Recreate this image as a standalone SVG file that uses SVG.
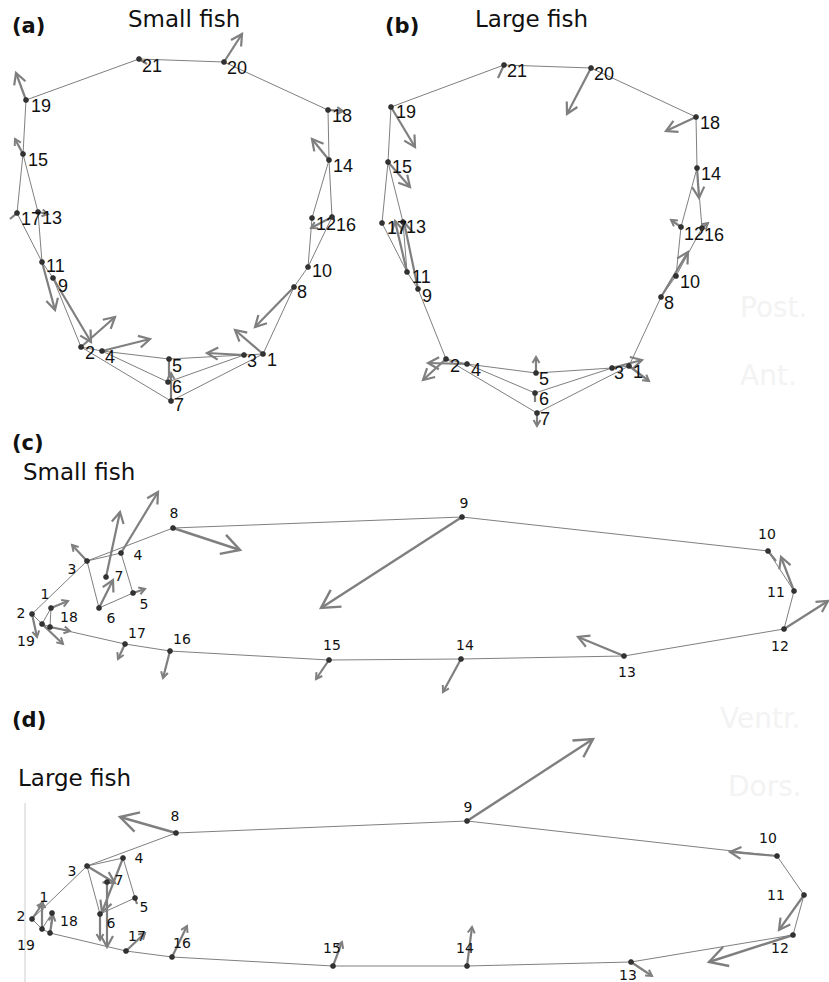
<svg xmlns="http://www.w3.org/2000/svg" width="829" height="982" viewBox="0 0 829 982">
<style>
.e{stroke:#707070;stroke-width:0.9;fill:none}
.v{stroke:#7f7f7f;stroke-width:2.2;fill:none}
.vs{stroke:#7f7f7f;stroke-width:2.2;fill:none;marker-end:url(#hs)}
.vm{stroke:#7f7f7f;stroke-width:2.2;fill:none;marker-end:url(#hm)}
.vl{stroke:#7f7f7f;stroke-width:2.4;fill:none;marker-end:url(#hl)}
.n{fill:#333;stroke:#222;stroke-width:0.6}
.la{font-family:"Liberation Sans",Arial,sans-serif;font-size:18px;fill:#111}
.lc{font-family:"DejaVu Sans",sans-serif;font-size:14px;fill:#111;text-anchor:middle}
.t{font-family:"DejaVu Sans",sans-serif;font-size:23px;fill:#111}
.p{font-family:"DejaVu Sans",sans-serif;font-size:21px;font-weight:bold;fill:#111}
.f{font-family:"DejaVu Sans",sans-serif;font-size:28px;fill:#f3f3f3}
</style>
<defs>
<marker id="hs" markerUnits="userSpaceOnUse" markerWidth="10" markerHeight="10" refX="7" refY="5" orient="auto" overflow="visible"><path d="M1,1.5 L7,5 L1,8.5" fill="none" stroke="#7f7f7f" stroke-width="2"/></marker>
<marker id="hm" markerUnits="userSpaceOnUse" markerWidth="14" markerHeight="14" refX="11" refY="7" orient="auto" overflow="visible"><path d="M0,1 L11,7 L0,13" fill="none" stroke="#7f7f7f" stroke-width="2.2"/></marker>
<marker id="hl" markerUnits="userSpaceOnUse" markerWidth="22" markerHeight="22" refX="18" refY="11" orient="auto" overflow="visible"><path d="M0,1 L18,11 L0,21" fill="none" stroke="#7f7f7f" stroke-width="2.4"/></marker>
</defs>
<rect width="829" height="982" fill="#fff"/>

<!-- titles -->
<text class="p" x="12" y="33">(a)</text>
<text class="t" x="128" y="27">Small fish</text>
<text class="p" x="385" y="33">(b)</text>
<text class="t" x="475" y="27">Large fish</text>
<text class="p" x="12" y="450">(c)</text>
<text class="t" x="23" y="480">Small fish</text>
<text class="p" x="12" y="727">(d)</text>
<text class="t" x="18" y="786">Large fish</text>
<text class="f" x="740" y="317">Post.</text>
<text class="f" x="740" y="385">Ant.</text>
<text class="f" x="720" y="728">Ventr.</text>
<text class="f" x="728" y="796">Dors.</text>
<line x1="25" y1="803" x2="25" y2="982" stroke="#cfcfcf" stroke-width="1"/>

<g id="connectors">
<!-- panel a -->
<line class="e" x1="139" y1="59" x2="224" y2="62"/>
<line class="e" x1="139" y1="59" x2="26" y2="100"/>
<line class="e" x1="224" y1="62" x2="328" y2="110"/>
<line class="e" x1="328" y1="110" x2="329" y2="160"/>
<line class="e" x1="329" y1="160" x2="312" y2="218"/>
<line class="e" x1="329" y1="160" x2="332" y2="217"/>
<line class="e" x1="312" y1="218" x2="308" y2="267"/>
<line class="e" x1="332" y1="217" x2="308" y2="267"/>
<line class="e" x1="308" y1="267" x2="294" y2="287"/>
<line class="e" x1="294" y1="287" x2="263" y2="354"/>
<line class="e" x1="26" y1="100" x2="23" y2="154"/>
<line class="e" x1="23" y1="154" x2="17" y2="213"/>
<line class="e" x1="23" y1="154" x2="38" y2="212"/>
<line class="e" x1="17" y1="213" x2="42" y2="262"/>
<line class="e" x1="38" y1="212" x2="42" y2="262"/>
<line class="e" x1="42" y1="262" x2="53" y2="278"/>
<line class="e" x1="53" y1="278" x2="81" y2="347"/>
<line class="e" x1="81" y1="347" x2="102" y2="351"/>
<line class="e" x1="81" y1="347" x2="171" y2="401"/>
<line class="e" x1="102" y1="351" x2="169" y2="359"/>
<line class="e" x1="102" y1="351" x2="168" y2="382"/>
<line class="e" x1="169" y1="359" x2="244" y2="355"/>
<line class="e" x1="168" y1="382" x2="244" y2="355"/>
<line class="e" x1="171" y1="401" x2="263" y2="354"/>
<line class="e" x1="244" y1="355" x2="263" y2="354"/>
<!-- panel b -->
<line class="e" x1="504" y1="65" x2="591" y2="68"/>
<line class="e" x1="504" y1="65" x2="391" y2="107"/>
<line class="e" x1="591" y1="68" x2="696" y2="117"/>
<line class="e" x1="696" y1="117" x2="697" y2="168"/>
<line class="e" x1="697" y1="168" x2="681" y2="227"/>
<line class="e" x1="697" y1="168" x2="702" y2="228"/>
<line class="e" x1="681" y1="227" x2="676" y2="276"/>
<line class="e" x1="702" y1="228" x2="676" y2="276"/>
<line class="e" x1="676" y1="276" x2="661" y2="297"/>
<line class="e" x1="661" y1="297" x2="629" y2="366"/>
<line class="e" x1="391" y1="107" x2="388" y2="162"/>
<line class="e" x1="388" y1="162" x2="382" y2="223"/>
<line class="e" x1="388" y1="162" x2="403" y2="222"/>
<line class="e" x1="382" y1="223" x2="407" y2="272"/>
<line class="e" x1="403" y1="222" x2="407" y2="272"/>
<line class="e" x1="407" y1="272" x2="418" y2="289"/>
<line class="e" x1="418" y1="289" x2="446" y2="359"/>
<line class="e" x1="446" y1="359" x2="467" y2="364"/>
<line class="e" x1="446" y1="359" x2="537" y2="413"/>
<line class="e" x1="467" y1="364" x2="536" y2="373"/>
<line class="e" x1="467" y1="364" x2="535" y2="393"/>
<line class="e" x1="536" y1="373" x2="612" y2="368"/>
<line class="e" x1="535" y1="393" x2="612" y2="368"/>
<line class="e" x1="537" y1="413" x2="629" y2="366"/>
<line class="e" x1="612" y1="368" x2="629" y2="366"/>
<!-- panel c -->
<line class="e" x1="32" y1="614" x2="87" y2="561"/>
<line class="e" x1="87" y1="561" x2="121" y2="553"/>
<line class="e" x1="87" y1="561" x2="173" y2="528"/>
<line class="e" x1="121" y1="553" x2="133" y2="593"/>
<line class="e" x1="133" y1="593" x2="99" y2="608"/>
<line class="e" x1="99" y1="608" x2="87" y2="561"/>
<line class="e" x1="173" y1="528" x2="462" y2="517"/>
<line class="e" x1="462" y1="517" x2="768" y2="551"/>
<line class="e" x1="768" y1="551" x2="794" y2="591"/>
<line class="e" x1="794" y1="591" x2="784" y2="629"/>
<line class="e" x1="784" y1="629" x2="624" y2="656"/>
<line class="e" x1="624" y1="656" x2="461" y2="659"/>
<line class="e" x1="461" y1="659" x2="329" y2="660"/>
<line class="e" x1="329" y1="660" x2="170" y2="651"/>
<line class="e" x1="170" y1="651" x2="125" y2="644"/>
<line class="e" x1="125" y1="644" x2="50" y2="627"/>
<line class="e" x1="32" y1="614" x2="42" y2="624"/>
<line class="e" x1="42" y1="624" x2="51" y2="608"/>
<line class="e" x1="51" y1="608" x2="50" y2="627"/>
<line class="e" x1="42" y1="624" x2="50" y2="627"/>
<!-- panel d -->
<line class="e" x1="32" y1="919" x2="87" y2="866"/>
<line class="e" x1="87" y1="866" x2="123" y2="858"/>
<line class="e" x1="87" y1="866" x2="176" y2="833"/>
<line class="e" x1="123" y1="858" x2="135" y2="898"/>
<line class="e" x1="135" y1="898" x2="100" y2="914"/>
<line class="e" x1="100" y1="914" x2="87" y2="866"/>
<line class="e" x1="176" y1="833" x2="467" y2="821"/>
<line class="e" x1="467" y1="821" x2="777" y2="856"/>
<line class="e" x1="777" y1="856" x2="804" y2="895"/>
<line class="e" x1="804" y1="895" x2="793" y2="935"/>
<line class="e" x1="793" y1="935" x2="631" y2="962"/>
<line class="e" x1="631" y1="962" x2="467" y2="966"/>
<line class="e" x1="467" y1="966" x2="333" y2="966"/>
<line class="e" x1="333" y1="966" x2="172" y2="957"/>
<line class="e" x1="172" y1="957" x2="126" y2="951"/>
<line class="e" x1="126" y1="951" x2="50" y2="933"/>
<line class="e" x1="32" y1="919" x2="42" y2="929"/>
<line class="e" x1="42" y1="929" x2="52" y2="913"/>
<line class="e" x1="52" y1="913" x2="50" y2="933"/>
<line class="e" x1="42" y1="929" x2="50" y2="933"/>
</g>

<g id="vectors">
<!-- panel a -->
<line class="vm" x1="263" y1="354" x2="235" y2="330"/>
<line class="vm" x1="81" y1="347" x2="115" y2="317"/>
<line class="vm" x1="244" y1="355" x2="207" y2="353"/>
<line class="vm" x1="102" y1="351" x2="150" y2="339"/>
<line class="v" x1="169" y1="359" x2="169" y2="378"/>
<line class="vs" x1="171" y1="401" x2="171" y2="373"/>
<line class="vm" x1="294" y1="287" x2="255" y2="327"/>
<line class="vm" x1="53" y1="278" x2="91" y2="342"/>
<line class="vm" x1="42" y1="262" x2="55" y2="310"/>
<line class="vm" x1="329" y1="160" x2="312" y2="139"/>
<line class="vs" x1="23" y1="154" x2="15" y2="139"/>
<line class="vs" x1="332" y1="217" x2="311" y2="228"/>
<line class="v" x1="17" y1="213" x2="10" y2="219"/>
<line class="vs" x1="38" y1="212" x2="48" y2="214"/>
<line class="vs" x1="328" y1="110" x2="343" y2="111"/>
<line class="vm" x1="26" y1="100" x2="16" y2="73"/>
<line class="vm" x1="224" y1="62" x2="242" y2="34"/>
<line class="v" x1="139" y1="59" x2="147" y2="64"/>
<!-- panel b -->
<line class="vs" x1="629" y1="366" x2="649" y2="381"/>
<line class="vm" x1="446" y1="359" x2="423" y2="380"/>
<line class="vm" x1="467" y1="364" x2="428" y2="363"/>
<line class="vm" x1="612" y1="368" x2="642" y2="360"/>
<line class="vs" x1="536" y1="373" x2="536" y2="357"/>
<line class="v" x1="535" y1="393" x2="535" y2="402"/>
<line class="vs" x1="537" y1="413" x2="537" y2="426"/>
<line class="vm" x1="661" y1="297" x2="688" y2="252"/>
<line class="vm" x1="418" y1="289" x2="404" y2="222"/>
<line class="vm" x1="407" y1="272" x2="395" y2="221"/>
<line class="vs" x1="681" y1="227" x2="671" y2="220"/>
<line class="vm" x1="697" y1="168" x2="699" y2="198"/>
<line class="vm" x1="388" y1="162" x2="410" y2="187"/>
<line class="vs" x1="702" y1="228" x2="708" y2="223"/>
<line class="vm" x1="696" y1="117" x2="666" y2="131"/>
<line class="vm" x1="391" y1="107" x2="415" y2="147"/>
<line class="vm" x1="591" y1="68" x2="567" y2="114"/>
<line class="v" x1="504" y1="65" x2="498" y2="78"/>
<!-- panel c -->
<line class="vs" x1="51" y1="608" x2="68" y2="601"/>
<line class="vs" x1="32" y1="614" x2="37" y2="637"/>
<line class="vs" x1="87" y1="561" x2="72" y2="545"/>
<line class="vm" x1="121" y1="553" x2="158" y2="492"/>
<line class="vs" x1="133" y1="593" x2="145" y2="589"/>
<line class="vm" x1="99" y1="608" x2="113" y2="580"/>
<line class="vm" x1="106" y1="577" x2="120" y2="512"/>
<line class="vl" x1="173" y1="528" x2="240" y2="550"/>
<line class="vl" x1="462" y1="517" x2="321" y2="608"/>
<line class="v" x1="768" y1="551" x2="776" y2="561"/>
<line class="vm" x1="794" y1="591" x2="781" y2="557"/>
<line class="vm" x1="784" y1="629" x2="828" y2="601"/>
<line class="vm" x1="624" y1="656" x2="578" y2="637"/>
<line class="vs" x1="461" y1="659" x2="443" y2="692"/>
<line class="vs" x1="329" y1="660" x2="316" y2="679"/>
<line class="vs" x1="170" y1="651" x2="163" y2="678"/>
<line class="vs" x1="125" y1="644" x2="118" y2="659"/>
<line class="vs" x1="50" y1="627" x2="70" y2="631"/>
<line class="vs" x1="42" y1="624" x2="63" y2="644"/>
<!-- panel d -->
<line class="vl" x1="176" y1="833" x2="120" y2="817"/>
<line class="vl" x1="467" y1="821" x2="593" y2="739"/>
<line class="vm" x1="777" y1="856" x2="730" y2="852"/>
<line class="vm" x1="804" y1="895" x2="779" y2="930"/>
<line class="vl" x1="793" y1="935" x2="709" y2="962"/>
<line class="vs" x1="631" y1="962" x2="652" y2="976"/>
<line class="vs" x1="467" y1="966" x2="472" y2="927"/>
<line class="vs" x1="333" y1="966" x2="342" y2="942"/>
<line class="vs" x1="172" y1="957" x2="187" y2="926"/>
<line class="vs" x1="126" y1="951" x2="145" y2="933"/>
<line class="vm" x1="87" y1="866" x2="115" y2="883"/>
<line class="vm" x1="123" y1="858" x2="102" y2="912"/>
<line class="vm" x1="107" y1="882" x2="107" y2="947"/>
<line class="vs" x1="100" y1="914" x2="100" y2="940"/>
<line class="vs" x1="42" y1="929" x2="42" y2="902"/>
<line class="vs" x1="32" y1="919" x2="43" y2="903"/>
<line class="vs" x1="50" y1="933" x2="53" y2="915"/>
<line class="v" x1="135" y1="898" x2="137" y2="904"/>
</g>

<!-- panel a nodes -->
<g id="a1"><circle class="n" cx="263" cy="354" r="2.5"/><text class="la" x="267" y="366">1</text></g>
<g id="a2"><circle class="n" cx="81" cy="347" r="2.5"/><text class="la" x="85" y="359">2</text></g>
<g id="a3"><circle class="n" cx="244" cy="355" r="2.5"/><text class="la" x="247" y="367">3</text></g>
<g id="a4"><circle class="n" cx="102" cy="351" r="2.5"/><text class="la" x="105" y="363">4</text></g>
<g id="a5"><circle class="n" cx="169" cy="359" r="2.5"/><text class="la" x="172" y="372">5</text></g>
<g id="a6"><circle class="n" cx="168" cy="382" r="2.5"/><text class="la" x="172" y="393">6</text></g>
<g id="a7"><circle class="n" cx="171" cy="401" r="2.5"/><text class="la" x="174" y="411">7</text></g>
<g id="a8"><circle class="n" cx="294" cy="287" r="2.5"/><text class="la" x="297" y="298">8</text></g>
<g id="a9"><circle class="n" cx="53" cy="278" r="2.5"/><text class="la" x="58" y="292">9</text></g>
<g id="a10"><circle class="n" cx="308" cy="267" r="2.5"/><text class="la" x="312" y="277">10</text></g>
<g id="a11"><circle class="n" cx="42" cy="262" r="2.5"/><text class="la" x="46" y="272">11</text></g>
<g id="a12"><circle class="n" cx="312" cy="218" r="2.5"/><text class="la" x="316" y="230">12</text></g>
<g id="a13"><circle class="n" cx="38" cy="212" r="2.5"/><text class="la" x="42" y="224">13</text></g>
<g id="a14"><circle class="n" cx="329" cy="160" r="2.5"/><text class="la" x="333" y="172">14</text></g>
<g id="a15"><circle class="n" cx="23" cy="154" r="2.5"/><text class="la" x="28" y="166">15</text></g>
<g id="a16"><circle class="n" cx="332" cy="217" r="2.5"/><text class="la" x="336" y="231">16</text></g>
<g id="a17"><circle class="n" cx="17" cy="213" r="2.5"/><text class="la" x="21" y="225">17</text></g>
<g id="a18"><circle class="n" cx="328" cy="110" r="2.5"/><text class="la" x="332" y="122">18</text></g>
<g id="a19"><circle class="n" cx="26" cy="100" r="2.5"/><text class="la" x="31" y="112">19</text></g>
<g id="a20"><circle class="n" cx="224" cy="62" r="2.5"/><text class="la" x="227" y="74">20</text></g>
<g id="a21"><circle class="n" cx="139" cy="59" r="2.5"/><text class="la" x="142" y="72">21</text></g>

<!-- panel b nodes -->
<g id="b1"><circle class="n" cx="629" cy="366" r="2.5"/><text class="la" x="633" y="378">1</text></g>
<g id="b2"><circle class="n" cx="446" cy="359" r="2.5"/><text class="la" x="450" y="372">2</text></g>
<g id="b3"><circle class="n" cx="612" cy="368" r="2.5"/><text class="la" x="614" y="379">3</text></g>
<g id="b4"><circle class="n" cx="467" cy="364" r="2.5"/><text class="la" x="471" y="376">4</text></g>
<g id="b5"><circle class="n" cx="536" cy="373" r="2.5"/><text class="la" x="539" y="385">5</text></g>
<g id="b6"><circle class="n" cx="535" cy="393" r="2.5"/><text class="la" x="539" y="405">6</text></g>
<g id="b7"><circle class="n" cx="537" cy="413" r="2.5"/><text class="la" x="540" y="425">7</text></g>
<g id="b8"><circle class="n" cx="661" cy="297" r="2.5"/><text class="la" x="664" y="309">8</text></g>
<g id="b9"><circle class="n" cx="418" cy="289" r="2.5"/><text class="la" x="422" y="302">9</text></g>
<g id="b10"><circle class="n" cx="676" cy="276" r="2.5"/><text class="la" x="680" y="288">10</text></g>
<g id="b11"><circle class="n" cx="407" cy="272" r="2.5"/><text class="la" x="412" y="283">11</text></g>
<g id="b12"><circle class="n" cx="681" cy="227" r="2.5"/><text class="la" x="684" y="240">12</text></g>
<g id="b13"><circle class="n" cx="403" cy="222" r="2.5"/><text class="la" x="406" y="233">13</text></g>
<g id="b14"><circle class="n" cx="697" cy="168" r="2.5"/><text class="la" x="701" y="180">14</text></g>
<g id="b15"><circle class="n" cx="388" cy="162" r="2.5"/><text class="la" x="392" y="173">15</text></g>
<g id="b16"><circle class="n" cx="702" cy="228" r="2.5"/><text class="la" x="704" y="241">16</text></g>
<g id="b17"><circle class="n" cx="382" cy="223" r="2.5"/><text class="la" x="387" y="234">17</text></g>
<g id="b18"><circle class="n" cx="696" cy="117" r="2.5"/><text class="la" x="700" y="129">18</text></g>
<g id="b19"><circle class="n" cx="391" cy="107" r="2.5"/><text class="la" x="396" y="118">19</text></g>
<g id="b20"><circle class="n" cx="591" cy="68" r="2.5"/><text class="la" x="594" y="80">20</text></g>
<g id="b21"><circle class="n" cx="504" cy="65" r="2.5"/><text class="la" x="507" y="77">21</text></g>

<!-- panel c nodes -->
<g id="c1"><circle class="n" cx="51" cy="608" r="2.5"/><text class="lc" x="45" y="599">1</text></g>
<g id="c2"><circle class="n" cx="32" cy="614" r="2.5"/><text class="lc" x="21" y="618">2</text></g>
<g id="c3"><circle class="n" cx="87" cy="561" r="2.5"/><text class="lc" x="72" y="574">3</text></g>
<g id="c4"><circle class="n" cx="121" cy="553" r="2.5"/><text class="lc" x="138" y="560">4</text></g>
<g id="c5"><circle class="n" cx="133" cy="593" r="2.5"/><text class="lc" x="144" y="609">5</text></g>
<g id="c6"><circle class="n" cx="99" cy="608" r="2.5"/><text class="lc" x="111" y="623">6</text></g>
<g id="c7"><circle class="n" cx="106" cy="577" r="2.5"/><text class="lc" x="119" y="581">7</text></g>
<g id="c8"><circle class="n" cx="173" cy="528" r="2.5"/><text class="lc" x="174" y="518">8</text></g>
<g id="c9"><circle class="n" cx="462" cy="517" r="2.5"/><text class="lc" x="464" y="508">9</text></g>
<g id="c10"><circle class="n" cx="768" cy="551" r="2.5"/><text class="lc" x="767" y="539">10</text></g>
<g id="c11"><circle class="n" cx="794" cy="591" r="2.5"/><text class="lc" x="776" y="597">11</text></g>
<g id="c12"><circle class="n" cx="784" cy="629" r="2.5"/><text class="lc" x="780" y="651">12</text></g>
<g id="c13"><circle class="n" cx="624" cy="656" r="2.5"/><text class="lc" x="627" y="677">13</text></g>
<g id="c14"><circle class="n" cx="461" cy="659" r="2.5"/><text class="lc" x="465" y="650">14</text></g>
<g id="c15"><circle class="n" cx="329" cy="660" r="2.5"/><text class="lc" x="332" y="650">15</text></g>
<g id="c16"><circle class="n" cx="170" cy="651" r="2.5"/><text class="lc" x="182" y="644">16</text></g>
<g id="c17"><circle class="n" cx="125" cy="644" r="2.5"/><text class="lc" x="137" y="638">17</text></g>
<g id="c18"><circle class="n" cx="50" cy="627" r="2.5"/><text class="lc" x="69" y="622">18</text></g>
<g id="c19"><circle class="n" cx="42" cy="624" r="2.5"/><text class="lc" x="26" y="646">19</text></g>

<!-- panel d nodes -->
<g id="d1"><circle class="n" cx="52" cy="913" r="2.5"/><text class="lc" x="44" y="902">1</text></g>
<g id="d2"><circle class="n" cx="32" cy="919" r="2.5"/><text class="lc" x="21" y="921">2</text></g>
<g id="d3"><circle class="n" cx="87" cy="866" r="2.5"/><text class="lc" x="72" y="876">3</text></g>
<g id="d4"><circle class="n" cx="123" cy="858" r="2.5"/><text class="lc" x="139" y="863">4</text></g>
<g id="d5"><circle class="n" cx="135" cy="898" r="2.5"/><text class="lc" x="144" y="912">5</text></g>
<g id="d6"><circle class="n" cx="100" cy="914" r="2.5"/><text class="lc" x="111" y="928">6</text></g>
<g id="d7"><circle class="n" cx="107" cy="882" r="2.5"/><text class="lc" x="119" y="885">7</text></g>
<g id="d8"><circle class="n" cx="176" cy="833" r="2.5"/><text class="lc" x="175" y="821">8</text></g>
<g id="d9"><circle class="n" cx="467" cy="821" r="2.5"/><text class="lc" x="468" y="812">9</text></g>
<g id="d10"><circle class="n" cx="777" cy="856" r="2.5"/><text class="lc" x="768" y="843">10</text></g>
<g id="d11"><circle class="n" cx="804" cy="895" r="2.5"/><text class="lc" x="776" y="900">11</text></g>
<g id="d12"><circle class="n" cx="793" cy="935" r="2.5"/><text class="lc" x="780" y="953">12</text></g>
<g id="d13"><circle class="n" cx="631" cy="962" r="2.5"/><text class="lc" x="628" y="980">13</text></g>
<g id="d14"><circle class="n" cx="467" cy="966" r="2.5"/><text class="lc" x="465" y="953">14</text></g>
<g id="d15"><circle class="n" cx="333" cy="966" r="2.5"/><text class="lc" x="332" y="953">15</text></g>
<g id="d16"><circle class="n" cx="172" cy="957" r="2.5"/><text class="lc" x="182" y="948">16</text></g>
<g id="d17"><circle class="n" cx="126" cy="951" r="2.5"/><text class="lc" x="137" y="941">17</text></g>
<g id="d18"><circle class="n" cx="50" cy="933" r="2.5"/><text class="lc" x="69" y="926">18</text></g>
<g id="d19"><circle class="n" cx="42" cy="929" r="2.5"/><text class="lc" x="26" y="950">19</text></g>
</svg>
